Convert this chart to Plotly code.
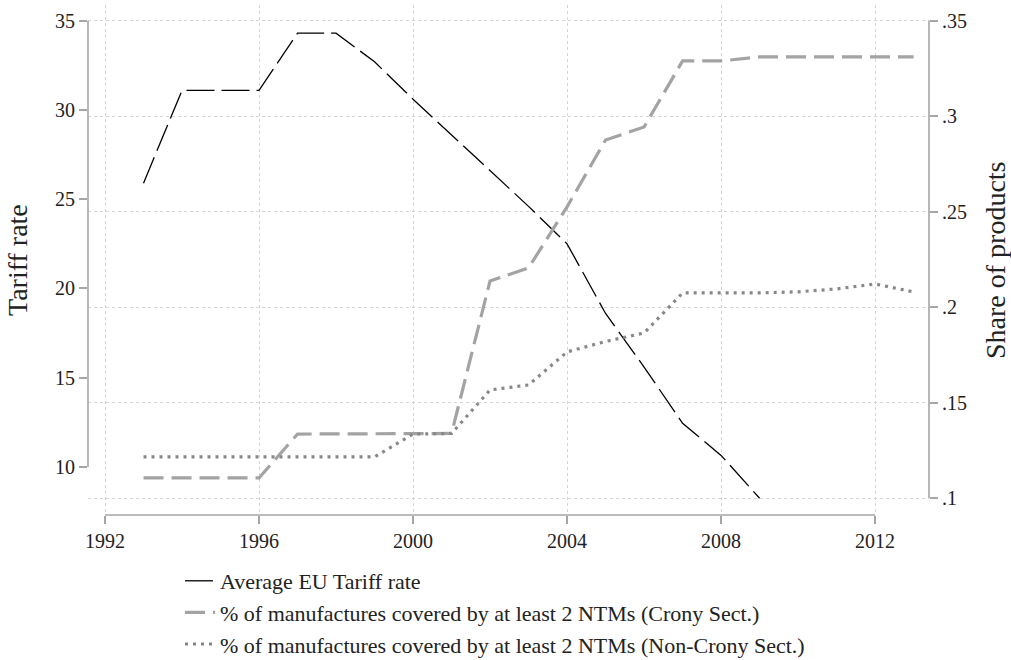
import plotly.graph_objects as go

years = list(range(1993, 2014))
tariff = [25.9, 31.1, 31.1, 31.1, 34.3, 34.3, 32.7, 30.6, 28.6, 26.6, 24.6, 22.5,
          18.6, 15.6, 12.45, 10.65, 8.25, None, None, None, None]
crony = [0.1105, 0.1105, 0.1105, 0.1105, 0.1335, 0.1335, 0.1335, 0.1338, 0.1338,
         0.2137, 0.2205, 0.2525, 0.2875, 0.2943, 0.3289, 0.3289, 0.331, 0.331,
         0.331, 0.331, 0.331]
noncrony = [0.1215, 0.1215, 0.1215, 0.1215, 0.1215, 0.1215, 0.1215, 0.1335, 0.1338,
            0.1566, 0.1592, 0.1765, 0.182, 0.1864, 0.2074, 0.2074, 0.2074, 0.208,
            0.2095, 0.2121, 0.2079]

x_ticks = [1992, 1996, 2000, 2004, 2008, 2012]
y_ticks = [10, 15, 20, 25, 30, 35]
y2_ticks = [0.1, 0.15, 0.2, 0.25, 0.3, 0.35]
y2_labels = [".1", ".15", ".2", ".25", ".3", ".35"]

FONT = "Liberation Serif"
AX = "#a6a6a6"
GRID = "#d4d4d4"
TXT = "#222222"

fig = go.Figure()
fig.add_trace(go.Scatter(x=years, y=tariff, mode="lines", name="Average EU Tariff rate",
                         line=dict(color="black", width=1.3, dash="28px,7px"), yaxis="y"))
fig.add_trace(go.Scatter(x=years, y=crony, mode="lines",
                         name="% of manufactures covered by at least 2 NTMs (Crony Sect.)",
                         line=dict(color="#a3a3a3", width=3.2, dash="20px,8px"), yaxis="y2"))
fig.add_trace(go.Scatter(x=years, y=noncrony, mode="lines",
                         name="% of manufactures covered by at least 2 NTMs (Non-Crony Sect.)",
                         line=dict(color="#888888", width=3.2, dash="3px,5px"), yaxis="y2"))

fig.update_layout(
    width=1011, height=660,
    margin=dict(l=88, r=82, t=5, b=145, autoexpand=False),
    paper_bgcolor="white", plot_bgcolor="white",
    font=dict(family=FONT, size=20, color=TXT),
    showlegend=True,
    legend=dict(x=(180 - 88) / 841, y=(515 - 560) / 510, xanchor="left", yanchor="top",
                font=dict(family=FONT, size=22, color=TXT), itemwidth=30,
                bgcolor="rgba(0,0,0,0)", tracegroupgap=0),
    xaxis=dict(range=[1991.558, 2013.40], tickvals=x_ticks, ticks="outside", ticklen=8,
               tickwidth=1.5, tickcolor=AX, showline=False, zeroline=False,
               showgrid=True, gridcolor=GRID, griddash="dot", gridwidth=1,
               tickfont=dict(family=FONT, size=20, color=TXT)),
    yaxis=dict(range=[7.31, 35.88], tickvals=y_ticks, ticks="outside", ticklen=8,
               tickwidth=1.5, tickcolor=AX, showline=False, zeroline=False, showgrid=False,
               tickfont=dict(family=FONT, size=20, color=TXT)),
    yaxis2=dict(range=[0.0911, 0.3582], tickvals=y2_ticks, ticktext=y2_labels,
                overlaying="y", side="right", ticks="outside", ticklen=8,
                tickwidth=1.5, tickcolor=AX, showline=False, zeroline=False,
                showgrid=True, gridcolor=GRID, griddash="dot", gridwidth=1,
                tickfont=dict(family=FONT, size=20, color=TXT)),
)

# axis lines spanning the tick range (Stata style)
fig.add_shape(type="line", xref="paper", yref="y", x0=0, x1=0, y0=y_ticks[0], y1=y_ticks[-1],
              line=dict(color=AX, width=1.6))
fig.add_shape(type="line", xref="paper", yref="y2", x0=1, x1=1, y0=y2_ticks[0], y1=y2_ticks[-1],
              line=dict(color=AX, width=1.6))
fig.add_shape(type="line", xref="x", yref="paper", x0=x_ticks[0], x1=x_ticks[-1], y0=0, y1=0,
              line=dict(color=AX, width=1.6))

fig.add_annotation(text="Tariff rate", xref="paper", yref="paper", x=0, y=0.5,
                   xanchor="center", yanchor="middle", xshift=-71, textangle=-90,
                   showarrow=False, font=dict(family=FONT, size=28, color=TXT))
fig.add_annotation(text="Share of products", xref="paper", yref="paper", x=1, y=0.5,
                   xanchor="center", yanchor="middle", xshift=66, textangle=-90,
                   showarrow=False, font=dict(family=FONT, size=28, color=TXT))

fig.write_html("out.html", config={"displayModeBar": False},
               post_script="document.body.style.margin='0';document.body.style.overflow='hidden';")
